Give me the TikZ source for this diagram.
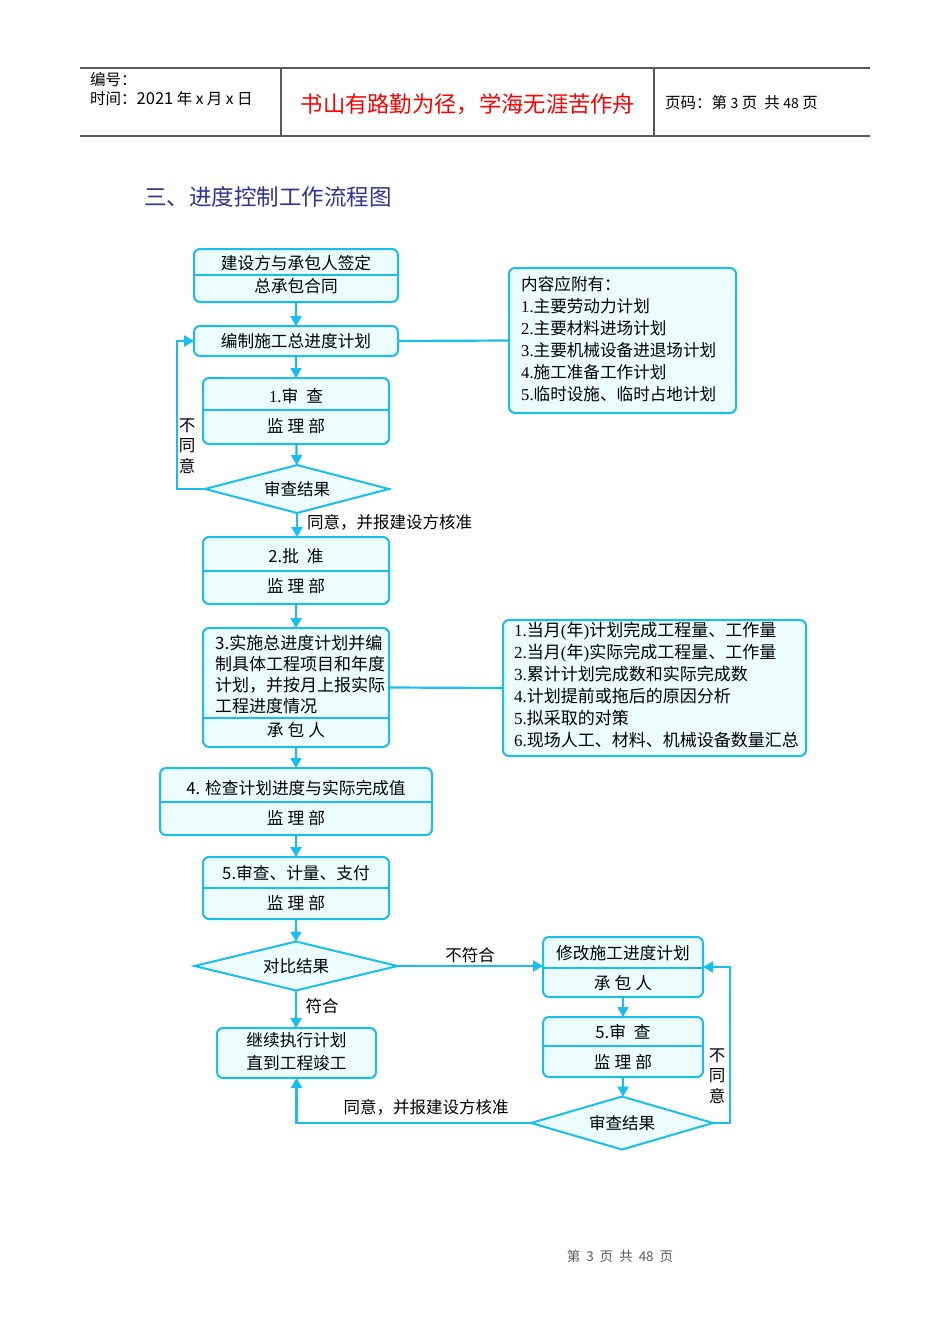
\documentclass[tikz,border=0pt]{standalone}
\usepackage{fontspec}
\setmainfont{Noto Sans CJK SC}
\newfontfamily\numfont{Liberation Serif}
\usepackage{tikz}
\usetikzlibrary{arrows.meta,shapes.geometric}
\definecolor{flowblue}{RGB}{25,190,240}
\definecolor{flowfill}{RGB}{236,252,255}
\definecolor{titleblue}{RGB}{48,50,150}
\definecolor{headgray}{RGB}{90,90,90}

\begin{document}
\begin{tikzpicture}[x=1pt,y=-1pt]
  \tikzset{BoxStyle/.style = {
    shape         = rectangle,
    draw          = flowblue,
    fill          = flowfill,
    line width    = 2pt,
    rounded corners = 6pt,
    inner sep     = 0pt,
    outer sep     = 0pt
    }
  }
  \tikzset{DiamondStyle/.style = {
    shape         = diamond,
    draw          = flowblue,
    fill          = flowfill,
    line width    = 2pt,
    aspect        = 3.8,
    inner sep     = 0pt,
    outer sep     = 0pt,
    font          = \fontsize{16.5}{19}\selectfont
    }
  }
  \tikzset{TextStyle/.style = {
    inner sep     = 0pt,
    text          = black,
    font          = \fontsize{16.7}{19}\selectfont
    }
  }
  \tikzset{LabelStyle/.style = {
    inner sep     = 0pt,
    text          = black,
    font          = \fontsize{16.5}{20.5}\selectfont
    }
  }
  \tikzset{EdgeStyle/.style = {
    draw          = flowblue,
    line width    = 2.2pt,
    -{Triangle[length=10pt,width=11pt]}
    }
  }
  \tikzset{LineStyle/.style = {
    draw          = flowblue,
    line width    = 2.2pt
    }
  }
  \tikzset{HeadLine/.style = {
    draw          = headgray,
    line width    = 1.3pt
    }
  }

  \useasboundingbox (0,0) rectangle (950,1344);

  % header
  \draw[HeadLine] (80,68) -- (870,68);
  \draw[HeadLine, line width=1.8pt] (80,136) -- (870,136);
  \draw[HeadLine] (281,68) -- (281,136);
  \draw[HeadLine] (654,68) -- (654,136);
  \node[LabelStyle, anchor=west, font=\fontsize{15.5}{18}\selectfont](H1) at (90,80) {编号：};
  \node[LabelStyle, anchor=west, font=\fontsize{15.5}{18}\selectfont](H2) at (90,99) {时间：{\fontsize{16.5}{18}\selectfont 2021} 年 x 月 x 日};
  \node[LabelStyle, text=red, font=\fontsize{22.3}{24}\selectfont](H3) at (468,104) {书山有路勤为径，学海无涯苦作舟};
  \node[LabelStyle, anchor=west, font=\fontsize{15.5}{18}\selectfont](H4) at (665,103) {页码：第 {\fontsize{14}{16}\selectfont 3} 页\ \ 共 {\fontsize{14}{16}\selectfont 48} 页};

  % title
  \node[LabelStyle, anchor=west, text=titleblue, font=\fontsize{22.5}{24}\selectfont](T) at (144,197) {三、进度控制工作流程图};

  % main column
  \node[BoxStyle, minimum width=204, minimum height=53](B1) at (296,275.5) {};
  \draw[LineStyle, line width=1.8pt] (B1.west |- 0,275) -- (B1.east |- 0,275);
  \node[TextStyle](B1a) at (296,263) {建设方与承包人签定};
  \node[TextStyle](B1b) at (296,286) {总承包合同};

  \node[BoxStyle, minimum width=204, minimum height=30](B2) at (296,341) {};
  \node[TextStyle](B2a) at (296,341) {编制施工总进度计划};

  \node[BoxStyle, minimum width=186, minimum height=66](B3) at (296,411) {};
  \draw[LineStyle, line width=1.8pt] (B3.west |- 0,410) -- (B3.east |- 0,410);
  \node[TextStyle](B3a) at (296,396) {{\numfont 1.}审\hspace{8pt}查};
  \node[TextStyle](B3b) at (296,426) {监\hspace{4pt}理\hspace{4pt}部};

  \node[DiamondStyle, minimum width=184, minimum height=48](D1) at (297,489) {审查结果};

  \node[BoxStyle, minimum width=186, minimum height=67](B4) at (296,570.5) {};
  \draw[LineStyle, line width=1.8pt] (B4.west |- 0,571) -- (B4.east |- 0,571);
  \node[TextStyle](B4a) at (296,556) {2.批\hspace{8pt}准};
  \node[TextStyle](B4b) at (296,586) {监\hspace{4pt}理\hspace{4pt}部};

  \node[BoxStyle, minimum width=186, minimum height=119](B5) at (296,687.5) {};
  \draw[LineStyle, line width=1.8pt] (B5.west |- 0,718) -- (B5.east |- 0,718);
  \node[TextStyle, anchor=north west, align=left, font=\fontsize{17}{21}\selectfont](B5a) at (215,635)
    {3.实施总进度计划并编\\制具体工程项目和年度\\计划，并按月上报实际\\工程进度情况};
  \node[TextStyle](B5b) at (296,730) {承\hspace{4pt}包\hspace{4pt}人};

  \node[BoxStyle, minimum width=272, minimum height=67](B6) at (296,801.5) {};
  \draw[LineStyle, line width=1.8pt] (B6.west |- 0,802) -- (B6.east |- 0,802);
  \node[TextStyle](B6a) at (296,788) {4. 检查计划进度与实际完成值};
  \node[TextStyle](B6b) at (296,818) {监\hspace{4pt}理\hspace{4pt}部};

  \node[BoxStyle, minimum width=186, minimum height=62](B7) at (296,888) {};
  \draw[LineStyle, line width=1.8pt] (B7.west |- 0,888) -- (B7.east |- 0,888);
  \node[TextStyle](B7a) at (296,873) {5.审查、计量、支付};
  \node[TextStyle](B7b) at (296,903) {监\hspace{4pt}理\hspace{4pt}部};

  \node[DiamondStyle, minimum width=203, minimum height=49](D2) at (296,966) {对比结果};

  \node[BoxStyle, minimum width=159, minimum height=50](B8) at (296.5,1053) {};
  \node[TextStyle](B8a) at (296.5,1040) {继续执行计划};
  \node[TextStyle](B8b) at (296.5,1063) {直到工程竣工};

  % right column
  \node[BoxStyle, minimum width=160, minimum height=60](B9) at (623,967) {};
  \draw[LineStyle, line width=1.8pt] (B9.west |- 0,968) -- (B9.east |- 0,968);
  \node[TextStyle](B9a) at (623,953) {修改施工进度计划};
  \node[TextStyle](B9b) at (623,983) {承\hspace{4pt}包\hspace{4pt}人};

  \node[BoxStyle, minimum width=160, minimum height=60](B10) at (623,1047) {};
  \draw[LineStyle, line width=1.8pt] (B10.west |- 0,1046) -- (B10.east |- 0,1046);
  \node[TextStyle](B10a) at (623,1032) {5.审\hspace{8pt}查};
  \node[TextStyle](B10b) at (623,1062) {监\hspace{4pt}理\hspace{4pt}部};

  \node[DiamondStyle, minimum width=182, minimum height=53](D3) at (622,1123) {审查结果};

  % notes
  \node[BoxStyle, minimum width=227, minimum height=145](N1) at (622.5,340.5) {};
  \node[TextStyle, anchor=north west, align=left, font=\fontsize{16.6}{22}\selectfont](N1a) at (521,276)
    {内容应附有：\\{\numfont 1.}主要劳动力计划\\{\numfont 2.}主要材料进场计划\\{\numfont 3.}主要机械设备进退场计划\\{\numfont 4.}施工准备工作计划\\{\numfont 5.}临时设施、临时占地计划};

  \node[BoxStyle, minimum width=303, minimum height=136](N2) at (654.5,688) {};
  \node[TextStyle, anchor=north west, align=left, font=\fontsize{17}{22}\selectfont](N2a) at (514,622)
    {{\numfont 1.}当月{\numfont (}年{\numfont )}计划完成工程量、工作量\\{\numfont 2.}当月{\numfont (}年{\numfont )}实际完成工程量、工作量\\{\numfont 3.}累计计划完成数和实际完成数\\{\numfont 4.}计划提前或拖后的原因分析\\{\numfont 5.}拟采取的对策\\{\numfont 6.}现场人工、材料、机械设备数量汇总};

  % connectors
  \draw[EdgeStyle](B1) -- (B2);
  \draw[EdgeStyle](B2) -- (B3);
  \draw[EdgeStyle](B3) -- (D1);
  \draw[EdgeStyle](D1.south) -- (D1.south |- B4.north);
  \draw[EdgeStyle](B4) -- (B5);
  \draw[EdgeStyle](B5) -- (B6);
  \draw[EdgeStyle](B6) -- (B7);
  \draw[EdgeStyle](B7) -- (D2);
  \draw[EdgeStyle](D2.south) -- (D2.south |- B8.north);
  \draw[EdgeStyle](D1.west) -- ++(-28,0) |- (B2.west);
  \draw[LineStyle](B2.east) -- (N1.west);
  \draw[LineStyle](B5.east) -- (N2.west);
  \draw[EdgeStyle](D2.east) -- (D2.east -| B9.west);
  \draw[EdgeStyle](B9) -- (B10);
  \draw[EdgeStyle](B10.south) -- (B10.south |- D3.north);
  \draw[EdgeStyle](D3.east) -- ++(17,0) |- (B9.east);
  \draw[EdgeStyle](D3.west) -| (B8.south);

  % connector labels
  \node[LabelStyle, align=center](L1) at (187,446) {不\\同\\意};
  \node[LabelStyle, anchor=west](L2) at (307,522) {同意，并报建设方核准};
  \node[LabelStyle](L3) at (470,955) {不符合};
  \node[LabelStyle](L4) at (322,1006) {符合};
  \node[LabelStyle, align=center](L5) at (717,1076) {不\\同\\意};
  \node[LabelStyle](L6) at (426,1107) {同意，并报建设方核准};

  % footer
  \node[LabelStyle, text=headgray, font=\fontsize{13.5}{16}\selectfont](F) at (620,1256) {第\hspace{6pt}3\hspace{6pt}页\hspace{6pt}共\hspace{6pt}48\hspace{6pt}页};
\end{tikzpicture}
\end{document}
